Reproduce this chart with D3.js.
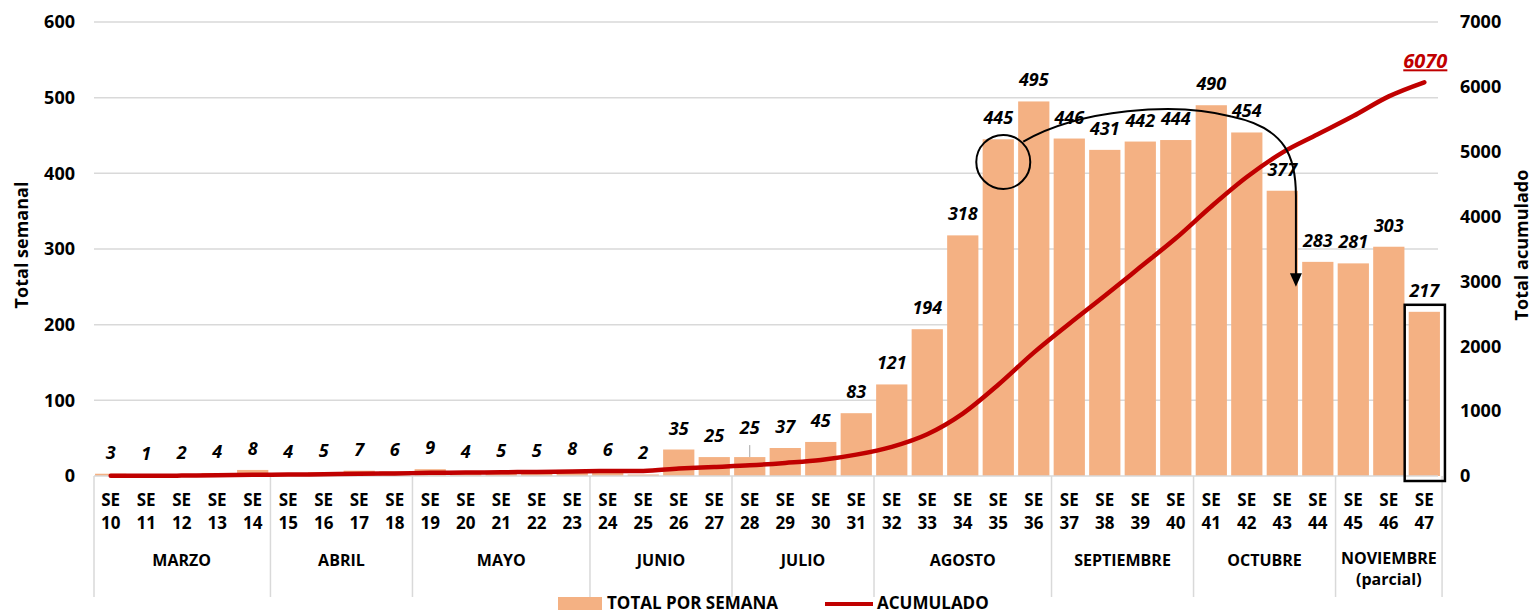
<!DOCTYPE html>
<html lang="es">
<head>
	<meta charset="UTF-8">
	<script type="text/javascript" src="https://d3js.org/d3.v7.min.js"></script>
	<title>Total semanal y acumulado</title>
	<style>
		body { margin: 0; background: #fff; }
		text { font-family: "Open Sans", "DejaVu Sans", sans-serif; font-weight: bold; fill: #000; }
		.grid line { stroke: #d9d9d9; stroke-width: 1.5; }
		.bar { fill: #F4B183; }
		.val { font-size: 18px; font-style: italic; text-anchor: middle; }
		.tick { font-size: 18px; }
		.wk { font-size: 17px; text-anchor: middle; }
		.month { font-size: 16px; text-anchor: middle; }
		.sep { stroke: #d9d9d9; stroke-width: 1.5; }
	</style>
</head>
<body>
<script type="text/javascript">
	// semanas epidemiologicas
	const weeks = ["10","11","12","13","14","15","16","17","18","19","20","21","22","23",
		"24","25","26","27","28","29","30","31","32","33","34","35","36","37","38","39","40",
		"41","42","43","44","45","46","47"];
	const weekly = [3,1,2,4,8, 4,5,7,6, 9,4,5,5,8, 6,2,35,25, 25,37,45,83,
		121,194,318,445,495, 446,431,442,444, 490,454,377,283, 281,303,217];
	const cumulative = [3,4,6,10,18, 22,27,34,40, 49,53,58,63,71, 77,79,114,139,
		164,201,246,329, 450,644,962,1407,1902, 2348,2779,3221,3665,
		4155,4609,4986,5269, 5550,5853,6070];
	const months = ["MARZO","ABRIL","MAYO","JUNIO","JULIO","AGOSTO","SEPTIEMBRE","OCTUBRE","NOVIEMBRE"];
	const monthWeeks = [5,4,5,4,4,5,4,4,3];
	const leftTicks = [0,100,200,300,400,500,600];
	const rightTicks = [0,1000,2000,3000,4000,5000,6000,7000];

	const svg = d3.select("body")
		.append("svg")
		.attr("width", 1533)
		.attr("height", 614);

	const x = d3.scaleBand().domain(weeks).range([94, 1441]).paddingInner(0.12).paddingOuter(0.03);
	const step = x.step();
	const yL = d3.scaleLinear().domain([0, 600]).range([476, 22]);
	const yR = d3.scaleLinear().domain([0, 7000]).range([476, 22]);
	const cx = function (w) { return x(w) + x.bandwidth() / 2; };

	// grid
	svg.append("g").attr("class", "grid")
		.selectAll("line").data(leftTicks.slice(1)).enter().append("line")
		.attr("x1", 94).attr("x2", 1438)
		.attr("y1", function (d) { return yL(d); })
		.attr("y2", function (d) { return yL(d); });

	// left axis labels
	svg.append("g").selectAll("text").data(leftTicks).enter().append("text")
		.attr("class", "tick")
		.attr("x", 75).attr("y", function (d) { return yL(d); })
		.attr("dy", "0.35em").attr("text-anchor", "end")
		.text(function (d) { return d; });
	// right axis labels
	svg.append("g").selectAll("text").data(rightTicks).enter().append("text")
		.attr("class", "tick")
		.attr("x", 1460).attr("y", function (d) { return yR(d); })
		.attr("dy", "0.35em").attr("text-anchor", "start")
		.text(function (d) { return d; });

	svg.append("text")
		.attr("transform", "translate(28,245) rotate(-90)")
		.attr("text-anchor", "middle").style("font-size", "18px")
		.text("Total semanal");
	svg.append("text")
		.attr("transform", "translate(1528,245) rotate(-90)")
		.attr("text-anchor", "middle").style("font-size", "18px")
		.text("Total acumulado");

	// bars
	svg.append("g").selectAll("rect").data(weekly).enter().append("rect")
		.attr("class", "bar")
		.attr("x", function (d, i) { return x(weeks[i]); })
		.attr("y", function (d) { return yL(d); })
		.attr("width", x.bandwidth())
		.attr("height", function (d) { return yL(0) - yL(d); });

	// value labels (SE 28 raised with a leader line)
	const raise = function (i) { return weeks[i] === "28" ? 8 : 0; };
	svg.append("line")
		.attr("x1", cx("28")).attr("x2", cx("28"))
		.attr("y1", yL(25) - 12).attr("y2", yL(25))
		.attr("stroke", "#a6a6a6").attr("stroke-width", 1);
	svg.append("g").selectAll("text").data(weekly).enter().append("text")
		.attr("class", "val")
		.attr("x", function (d, i) { return cx(weeks[i]); })
		.attr("y", function (d, i) { return yL(d) - 15 - raise(i); })
		.text(function (d) { return d; });

	// x axis: week labels
	const wk = svg.append("g").selectAll("g").data(weeks).enter().append("g");
	wk.append("text").attr("class", "wk")
		.attr("x", function (d) { return cx(d); }).attr("y", 506).text("SE");
	wk.append("text").attr("class", "wk")
		.attr("x", function (d) { return cx(d); }).attr("y", 529).text(function (d) { return d; });

	// month groups
	let start = 0;
	const groups = months.map(function (m, i) {
		const g = { name: m, first: weeks[start], last: weeks[start + monthWeeks[i] - 1] };
		start += monthWeeks[i];
		return g;
	});
	const left = function (w) { return x(w) - (step - x.bandwidth()) / 2; };
	const right = function (w) { return x(w) + x.bandwidth() + (step - x.bandwidth()) / 2; };
	svg.append("line").attr("class", "sep")
		.attr("x1", 94).attr("x2", 94).attr("y1", 476).attr("y2", 597);
	groups.forEach(function (g) {
		svg.append("line").attr("class", "sep")
			.attr("x1", right(g.last)).attr("x2", right(g.last))
			.attr("y1", 476).attr("y2", 597);
		const mx = (left(g.first) + right(g.last)) / 2;
		if (g.name === "NOVIEMBRE") {
			svg.append("text").attr("class", "month").attr("x", mx).attr("y", 564).text(g.name);
			svg.append("text").attr("class", "month").attr("x", mx).attr("y", 585).text("(parcial)");
		} else {
			svg.append("text").attr("class", "month").attr("x", mx).attr("y", 566).text(g.name);
		}
	});
	// baseline
	svg.append("line").attr("class", "sep")
		.attr("x1", 94).attr("x2", 1438).attr("y1", 476).attr("y2", 476);

	// cumulative line
	const line = d3.line()
		.x(function (d, i) { return cx(weeks[i]); })
		.y(function (d) { return yR(d); })
		.curve(d3.curveMonotoneX);
	svg.append("path").datum(cumulative)
		.attr("d", line)
		.attr("fill", "none")
		.attr("stroke", "#C00000")
		.attr("stroke-width", 4.5)
		.attr("stroke-linecap", "round");

	// final total
	const last = cumulative[cumulative.length - 1];
	svg.append("text")
		.attr("x", cx("47") + 1).attr("y", yR(last) - 14)
		.attr("text-anchor", "middle")
		.style("font-size", "20px").style("font-style", "italic")
		.style("fill", "#C00000").style("text-decoration", "underline")
		.text(last);

	// annotations
	svg.append("circle")
		.attr("cx", cx("35") + 5).attr("cy", yL(415))
		.attr("r", 27)
		.attr("fill", "none").attr("stroke", "#000").attr("stroke-width", 2);
	const ax = x("43") + x.bandwidth() - 2;
	const arrow = d3.path();
	arrow.moveTo(cx("35") + 25, yL(442));
	arrow.bezierCurveTo(cx("37") + 10, yL(485), cx("40"), yL(495), cx("41") + 20, yL(475));
	arrow.bezierCurveTo(cx("42") + 40, yL(460), ax, yL(420), ax, yL(370));
	arrow.lineTo(ax, yL(262));
	svg.append("path").attr("d", arrow.toString())
		.attr("fill", "none").attr("stroke", "#000").attr("stroke-width", 2);
	svg.append("path")
		.attr("d", "M" + (ax - 6) + "," + yL(268) + "L" + (ax + 6) + "," + yL(268) + "L" + ax + "," + yL(250) + "Z")
		.attr("fill", "#000");
	svg.append("rect")
		.attr("x", x("47") - 4).attr("y", yL(217) - 7)
		.attr("width", x.bandwidth() + 9).attr("height", yL(0) - yL(217) + 12)
		.attr("fill", "none").attr("stroke", "#000").attr("stroke-width", 2.5);

	// legend
	const lg = svg.append("g");
	lg.append("rect").attr("x", 558).attr("y", 597).attr("width", 44).attr("height", 13).attr("fill", "#F4B183");
	lg.append("text").attr("x", 607).attr("y", 609).style("font-size", "17px").text("TOTAL POR SEMANA");
	lg.append("line").attr("x1", 825).attr("x2", 873).attr("y1", 604).attr("y2", 604)
		.attr("stroke", "#C00000").attr("stroke-width", 4);
	lg.append("text").attr("x", 877).attr("y", 609).style("font-size", "17px").text("ACUMULADO");
</script>
</body>
</html>
